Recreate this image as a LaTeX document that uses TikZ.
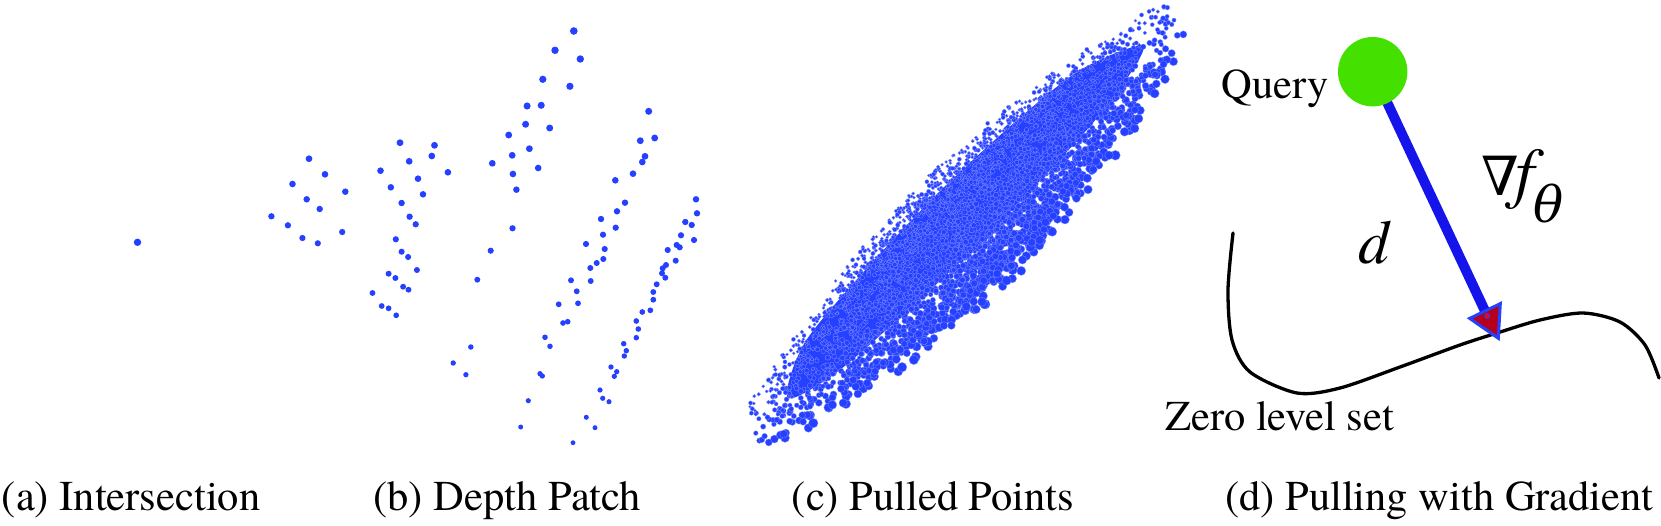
\documentclass[tikz,border=0pt]{standalone}
\usepackage{fontspec}
\setmainfont{texgyretermes}[Extension=.otf, UprightFont=*-regular, ItalicFont=*-italic, BoldFont=*-bold, BoldItalicFont=*-bolditalic]
\newfontfamily\dvserif{DejaVu Serif}
\definecolor{ptblue}{RGB}{38,64,255}
\definecolor{arrowblue}{RGB}{20,20,235}
\definecolor{headred}{RGB}{180,0,30}
\definecolor{qgreen}{RGB}{68,224,0}
\begin{document}
\begin{tikzpicture}[x=1pt,y=-1pt,
  lbl/.style={font=\fontsize{42.5}{48}\selectfont, inner sep=0pt, anchor=base west},
  pt/.style={fill=ptblue},
  cloud/.style={fill=ptblue, draw=white!40!ptblue, line width=0.3pt}]
\useasboundingbox (0,0) rectangle (1661,525);

% (a) Intersection
\fill[pt] (137.5,242.3) circle (3.7pt);

% (b) Depth patch
\foreach \x/\y in {
309.0/158.7, 325.0/174.3, 292.5/184.0, 345.3/191.7, 306.7/199.3, 319.7/209.0, 271.4/216.3, 287.9/225.3, 342.2/232.0, 302.4/238.0, 317.8/243.3,
400.0/142.7, 434.5/145.3, 431.8/156.0, 409.2/161.3, 380.5/170.7, 447.9/172.3, 418.0/178.7, 390.8/187.3, 423.0/194.3, 401.6/203.0, 409.6/216.7, 415.7/224.3, 395.8/239.3, 401.6/251.7, 408.1/257.0, 416.9/270.0, 388.6/273.7, 395.4/278.0, 403.1/286.7, 408.5/289.7, 372.5/293.0, 381.7/306.0, 388.6/308.3, 396.2/315.3,
573.8/31.0, 555.0/50.3, 580.3/59.0, 542.8/79.3, 569.9/86.3, 527.1/106.0, 541.2/105.3, 525.6/124.3, 549.7/128.0, 508.7/135.0, 529.4/148.7, 512.2/155.3, 492.3/163.3, 538.2/168.0, 512.9/174.0, 516.4/189.7, 512.5/228.3, 490.7/250.7, 477.3/279.7, 470.8/347.0, 453.2/363.0, 465.9/374.7,
648.7/111.3, 640.3/140.7, 654.7/138.0, 645.0/156.3, 642.3/162.0, 633.0/173.7, 615.3/180.3, 625.0/202.7, 617.0/211.3, 601.0/219.0, 615.7/227.7, 603.0/234.7, 586.0/244.0, 604.7/249.0, 603.3/259.0, 596.7/263.0, 590.3/268.0, 571.0/280.3, 590.7/281.0, 576.7/291.3, 558.7/304.3, 578.0/303.3, 567.7/321.7, 563.0/323.0, 545.0/337.3, 550.0/346.3, 540.0/373.7, 542.3/376.0, 528.3/400.7, 520.7/427.0,
696.0/199.3, 697.0/213.3, 685.3/222.0, 691.7/225.0, 681.0/235.3, 694.0/240.0, 667.7/250.0, 679.7/247.3, 676.7/245.0, 675.7/260.7, 666.0/265.0, 662.7/268.3, 662.0/273.3, 665.3/277.7, 656.7/284.3, 653.3/292.0, 653.3/299.7, 650.3/310.3, 642.3/312.0, 636.3/321.0, 638.3/329.0, 636.3/337.7, 623.7/343.7, 626.3/350.7, 624.3/356.0, 611.0/367.0, 616.7/371.7, 614.3/376.3, 600.0/390.0, 602.7/398.3, 609.0/401.7, 586.3/417.3, 595.0/427.7, 573.0/442.7}
{
  \pgfmathsetmacro\r{3.9-0.0033*\y}
  \fill[pt] (\x,\y) circle (\r pt);
}

% (c) Pulled points
\fill[ptblue] plot[smooth cycle] coordinates {(787.7,397.8) (804.2,343.5) (861.9,273.8) (937.3,193.7) (1018.3,119.1) (1081.5,69.3) (1143.2,46.3) (1111.7,99.9) (1059.1,160.3) (983,239.9) (902.7,315) (834.4,374.1)};
\pgfmathsetseed{12345}
\foreach \i in {1,...,4000}{
  \pgfmathsetmacro\ra{rand}
  \pgfmathsetmacro\rb{rand}
  \pgfmathsetmacro\ta{310+152*(\ra+\rb)}
  \pgfmathsetmacro\w{18+44*sin(0.29*\ta)}
  \pgfmathsetmacro\rc{rand}
  \pgfmathsetmacro\rd{rand}
  \pgfmathsetmacro\fb{\rc+0.3*max(0,\rd)}
  \pgfmathsetmacro\tb{0.95*\w*\fb}
  \pgfmathsetmacro\re{rnd}
  \pgfmathsetmacro\r{1.3+0.8*\re+0.6*(\fb+1)+2.0*max(0,\fb-0.5)}
  \pgfmathsetmacro\px{745+0.711*\ta+0.703*\tb}
  \pgfmathsetmacro\py{440-0.703*\ta+0.711*\tb}
  \filldraw[cloud] (\px,\py) circle (\r pt);
}

% (d) Pulling with gradient
\draw[line width=3.3pt, line cap=round] plot[smooth] coordinates {(1233,233) (1228,290) (1232,340) (1250,372) (1297,393) (1340,388) (1400,367) (1460,345) (1497,333) (1540,320) (1583,313) (1620,322) (1645,345) (1659,378)};

\coordinate (qc) at (1372.7,71.7);
\coordinate (hb) at (1485,311);
\coordinate (tip) at (1498.3,338.3);
\coordinate (h1) at (1469.7,318.4);
\coordinate (h2) at (1500.3,303.6);
\draw[arrowblue, line width=10pt] (qc) -- (hb);
\node[circle, fill=qgreen, minimum size=69.4pt, inner sep=0pt] (q) at (qc) {};
\draw[draw=ptblue, line width=3pt, fill=headred, line join=miter] (h1) -- (tip) -- (h2) -- cycle;
\filldraw[draw=ptblue, fill=red, line width=0.8pt] (1487.3,316) circle (2.6pt);

\node[lbl] (qlabel) at (1221.7,98.3) {Query};
\node[lbl] (zls) at (1165,430) {Zero level set};
\node[lbl, font=\fontsize{62}{70}\selectfont\itshape] (dlabel) at (1358,263) {d};
\node[lbl] (grad) at (1481.7,195) {{\fontsize{54}{58}\selectfont\dvserif ∇}\kern-4pt{\fontsize{68}{70}\selectfont\itshape f}\kern-1pt\raisebox{-27pt}{\fontsize{50}{54}\selectfont\dvserif\itshape θ}};

% captions
\node[lbl] (capa) at (1.7,510) {(a) Intersection};
\node[lbl] (capb) at (373.3,510) {(b) Depth Patch};
\node[lbl] (capc) at (791.7,510) {(c) Pulled Points};
\node[lbl] (capd) at (1225,510) {(d) Pulling with Gradient};
\end{tikzpicture}
\end{document}
